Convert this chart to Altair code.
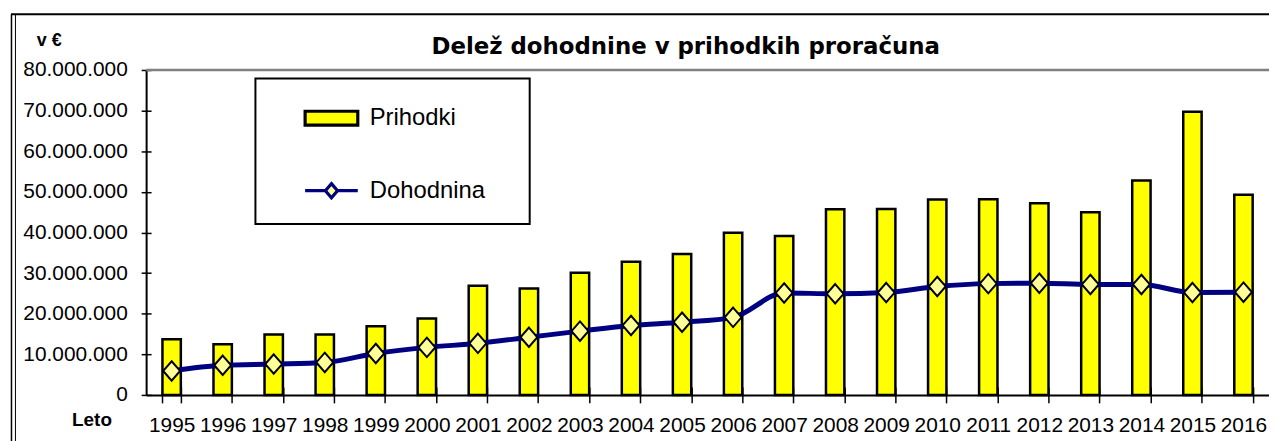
import altair as alt
import pandas as pd

years = ["1995", "1996", "1997", "1998", "1999", "2000", "2001", "2002", "2003", "2004", "2005",
         "2006", "2007", "2008", "2009", "2010", "2011", "2012", "2013", "2014", "2015", "2016"]
prihodki = [13700000, 12500000, 14900000, 14900000, 16900000, 18800000, 26900000, 26200000,
            30100000, 32800000, 34700000, 39900000, 39100000, 45700000, 45800000, 48100000,
            48200000, 47200000, 45000000, 52800000, 69700000, 49300000]
dohodnina = [5900000, 7300000, 7600000, 8000000, 10200000, 11700000, 12700000, 14200000,
             15700000, 17100000, 17900000, 19100000, 25100000, 24900000, 25200000, 26700000,
             27400000, 27500000, 27200000, 27200000, 25200000, 25300000]
series_names = ["Prihodki", "Dohodnina"]
y_ticks = [0, 10000000, 20000000, 30000000, 40000000, 50000000, 60000000, 70000000, 80000000]
y_max = 80000000

df = pd.DataFrame({"year": years, "Prihodki": prihodki, "Dohodnina": dohodnina})
legend_df = pd.DataFrame({"series": series_names, "year": years[:2], "value": [0, 0]})
one = pd.DataFrame({"k": [0]})
top_df = pd.DataFrame({"v": [y_max]})

FONT = "Liberation Sans"
label_expr = "replace(format(datum.value, ','), regexp(',', 'g'), '.')"

# decorative outer frame (chart area border)
frame_top = alt.Chart(one).mark_rule(color="black", strokeWidth=2).encode(
    x=alt.value(-136), x2=alt.value(1160), y=alt.value(-56))
frame_left1 = alt.Chart(one).mark_rule(color="black", strokeWidth=1.5).encode(
    x=alt.value(-135.5), y=alt.value(-56), y2=alt.value(400))
frame_left2 = alt.Chart(one).mark_rule(color="black", strokeWidth=1).encode(
    x=alt.value(-131.5), y=alt.value(-56), y2=alt.value(400))

# legend box (decorative border)
legend_box = alt.Chart(one).mark_rect(fill="white", stroke="black", strokeWidth=2).encode(
    x=alt.value(110), x2=alt.value(386), y=alt.value(8.5), y2=alt.value(155))

top_line = alt.Chart(top_df).mark_rule(color="#808080", strokeWidth=2.5).encode(
    y=alt.Y("v:Q", axis=None))

bars = alt.Chart(df).mark_bar(fill="#FFFF00", stroke="black", strokeWidth=2.5).encode(
    x=alt.X("year:N",
            scale=alt.Scale(domain=years, paddingInner=0.64, paddingOuter=0.32),
            axis=alt.Axis(title="Leto", titleFont=FONT, titleFontWeight="bold", titleFontSize=19,
                          titleColor="black", titleAngle=0, titleAlign="left",
                          titleBaseline="alphabetic", titleX=-75, titleY=31,
                          labelFont=FONT, labelFontSize=21, labelColor="black", labelAngle=0,
                          labelBaseline="alphabetic", labelPadding=29,
                          tickSize=8, tickColor="black", tickWidth=1.5, tickBand="extent",
                          domainColor="black", domainWidth=2, grid=False)),
    y=alt.Y("Prihodki:Q",
            scale=alt.Scale(domain=[0, y_max], nice=False),
            axis=alt.Axis(values=y_ticks, labelExpr=label_expr, title="v €",
                          titleFont=FONT, titleFontWeight="bold", titleFontSize=18,
                          titleColor="black", titleAngle=0, titleAlign="center",
                          titleBaseline="alphabetic", titleX=-98, titleY=-25,
                          labelFont=FONT, labelFontSize=21, labelColor="black", labelPadding=14,
                          tickSize=5, tickColor="black", tickWidth=1.5,
                          domainColor="black", domainWidth=2, grid=False)),
)

line = alt.Chart(df).mark_line(color="#000080", strokeWidth=5, interpolate="monotone").encode(
    x=alt.X("year:N", axis=None),
    y=alt.Y("Dohodnina:Q", axis=None),
)

points = alt.Chart(df).mark_point(shape="M0,-1.15L1,0L0,1.15L-1,0Z", filled=True, fill="#FFFF99",
                                  stroke="black", strokeWidth=2, size=289, opacity=1).encode(
    x=alt.X("year:N", axis=None),
    y=alt.Y("Dohodnina:Q", axis=None),
)

rect_path = "M-1,-0.264H1V0.264H-1Z"
line_path = "M-1,0H-0.23M0.23,0H1M0,-0.27L0.23,0L0,0.27L-0.23,0Z"
leg = alt.Legend(title=None, orient="none", legendX=110, legendY=8, symbolSize=2809)

legend_layer = alt.Chart(legend_df).mark_point(filled=True, opacity=1, size=2809).encode(
    x=alt.X("year:N", axis=alt.Axis(orient="bottom", offset=-8, tickSize=8, domain=False,
                                    labels=False, title=None, grid=False, tickBand="extent",
                                    tickColor="black", tickWidth=1.5)),
    y=alt.Y("value:Q", axis=alt.Axis(orient="left", offset=-5, tickSize=5, domain=False,
                                     labels=False, title=None, grid=False, values=y_ticks,
                                     tickColor="black", tickWidth=1.5)),
    shape=alt.Shape("series:N", scale=alt.Scale(domain=series_names, range=[rect_path, line_path]),
                    legend=leg),
    fill=alt.Fill("series:N", scale=alt.Scale(domain=series_names, range=["#FFFF00", "#FFFF99"]),
                  legend=leg),
    stroke=alt.Stroke("series:N", scale=alt.Scale(domain=series_names, range=["black", "#000080"]),
                      legend=leg),
).transform_filter("false")

chart = alt.layer(
    frame_top, frame_left1, frame_left2, legend_box, top_line, bars, line, points, legend_layer
).resolve_axis(x="independent", y="independent").properties(
    width=1130, height=327,
    title=alt.TitleParams(text="Delež dohodnine v prihodkih proračuna", font="DejaVu Sans",
                          fontSize=23, fontWeight="bold", color="black", anchor="middle",
                          frame="group", offset=-64, baseline="alphabetic", dx=-22),
    autosize=alt.AutoSizeParams(type="none"),
    padding={"left": 139, "top": 61, "right": 0, "bottom": 45},
).configure_view(stroke=None).configure_legend(
    padding=12, labelFont=FONT, labelFontSize=24,
    labelColor="black", symbolStrokeWidth=3.2, rowPadding=31, labelOffset=10, symbolOffset=36,
)

chart.save("out.html", embed_options={"renderer": "svg", "actions": False})
